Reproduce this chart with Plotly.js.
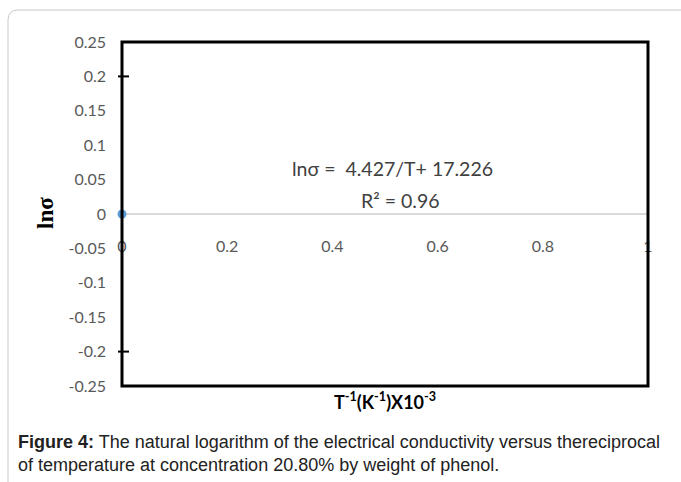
<!DOCTYPE html>
<html>
<head>
<meta charset="utf-8">
<script src="https://cdn.plot.ly/plotly-3.0.1.min.js"></script>
<style>
  html, body { margin: 0; padding: 0; background: #fff; }
  #chart { width: 681px; height: 482px; }
</style>
</head>
<body>
<div id="chart"></div>
<script>
// ---- data ----
const xValues = [0];
const yValues = [0];
const yTickVals = [0.25, 0.2, 0.15, 0.1, 0.05, 0, -0.05, -0.1, -0.15, -0.2, -0.25];
const yTickText = ['0.25', '0.2', '0.15', '0.1', '0.05', '0', '-0.05', '-0.1', '-0.15', '-0.2', '-0.25'];
const xTickVals = [0, 0.2, 0.4, 0.6, 0.8, 1];
const xTickText = ['0', '0.2', '0.4', '0.6', '0.8', '1'];
const axisMarkVals = [0.2, -0.2];
const slope = '4.427';
const intercept = '17.226';
const rSquared = '0.96';
const captionBold = 'Figure 4:';
const captionLine1 = ' The natural logarithm of the electrical conductivity versus thereciprocal';
const captionLine2 = 'of temperature at concentration 20.80% by weight of phenol.';

// ---- layout helpers (pixel -> paper) ----
const W = 681, H = 482;
const L = 122, R = 648, T = 42, B = 386;
const px = v => (v - L) / (R - L);
const py = v => (B - v) / (B - T);

const tickFont = { family: 'Lato, "Open Sans", sans-serif', size: 16, color: '#595959' };

const shapes = [
  // outer rounded frame
  {
    type: 'path', xref: 'paper', yref: 'paper',
    path: `M ${px(8)},${py(495)} L ${px(8)},${py(20)} Q ${px(8)},${py(10)} ${px(18)},${py(10)} L ${px(700)},${py(10)}`,
    line: { color: '#C8C8C8', width: 1 }
  },
  // plot frame
  {
    type: 'rect', xref: 'paper', yref: 'paper', x0: 0, x1: 1, y0: 0, y1: 1,
    line: { color: '#000000', width: 3 }, layer: 'above'
  }
];
axisMarkVals.forEach(v => shapes.push({
  type: 'line', xref: 'paper', yref: 'y', x0: px(118), x1: px(129), y0: v, y1: v,
  line: { color: '#000000', width: 2 }, layer: 'above'
}));

const annotations = [
  {
    xref: 'paper', yref: 'paper', x: px(392), y: py(168), xanchor: 'center', yanchor: 'middle',
    text: `lnσ =  ${slope}/T+ ${intercept}`, showarrow: false,
    font: { family: 'Lato, "Open Sans", sans-serif', size: 19.5, color: '#404040' }
  },
  {
    xref: 'paper', yref: 'paper', x: px(400), y: py(200), xanchor: 'center', yanchor: 'middle',
    text: `R² = ${rSquared}`, showarrow: false,
    font: { family: 'Lato, "Open Sans", sans-serif', size: 19.5, color: '#404040' }
  },
  {
    xref: 'paper', yref: 'paper', x: px(385), y: py(401), xanchor: 'center', yanchor: 'middle',
    text: '<b>T<sup>-1</sup>(K<sup>-1</sup>)X10<sup>-3</sup></b>', showarrow: false,
    font: { family: 'Lato, "Open Sans", sans-serif', size: 18, color: '#000000' }
  },
  {
    xref: 'paper', yref: 'paper', x: px(45), y: py(213), xanchor: 'center', yanchor: 'middle',
    text: '<b>lnσ</b>', showarrow: false, textangle: -90,
    font: { family: '"Liberation Serif", "DejaVu Serif", serif', size: 23, color: '#000000' }
  },
  {
    xref: 'paper', yref: 'paper', x: px(16), y: py(442), xanchor: 'left', yanchor: 'middle',
    text: `<b>${captionBold}</b>${captionLine1}`, showarrow: false,
    font: { family: '"Liberation Sans", Arial, sans-serif', size: 18, color: '#222222' }
  },
  {
    xref: 'paper', yref: 'paper', x: px(16), y: py(465), xanchor: 'left', yanchor: 'middle',
    text: captionLine2, showarrow: false,
    font: { family: '"Liberation Sans", Arial, sans-serif', size: 18, color: '#222222' }
  }
];

const trace = {
  x: xValues, y: yValues, type: 'scatter', mode: 'markers',
  marker: { color: '#5B9BD5', size: 9 },
  cliponaxis: false, showlegend: false, hoverinfo: 'skip'
};

const layout = {
  width: W, height: H,
  margin: { l: L, r: W - R, t: T, b: H - B, pad: 0 },
  paper_bgcolor: '#ffffff', plot_bgcolor: '#ffffff',
  showlegend: false,
  xaxis: {
    range: [0, 1], anchor: 'free', position: 0.5,
    tickvals: xTickVals, ticktext: xTickText,
    showgrid: false, zeroline: false, showline: false, ticks: '',
    ticklabelstandoff: 21, tickfont: tickFont, fixedrange: true
  },
  yaxis: {
    range: [-0.25, 0.25],
    tickvals: yTickVals, ticktext: yTickText,
    showgrid: false, zeroline: true, zerolinecolor: '#D9D9D9', zerolinewidth: 1.5,
    showline: false, ticks: '', ticklabelstandoff: 15, tickfont: tickFont, fixedrange: true
  },
  shapes: shapes,
  annotations: annotations
};

Plotly.newPlot('chart', [trace], layout, { displayModeBar: false, staticPlot: true });
</script>
</body>
</html>
